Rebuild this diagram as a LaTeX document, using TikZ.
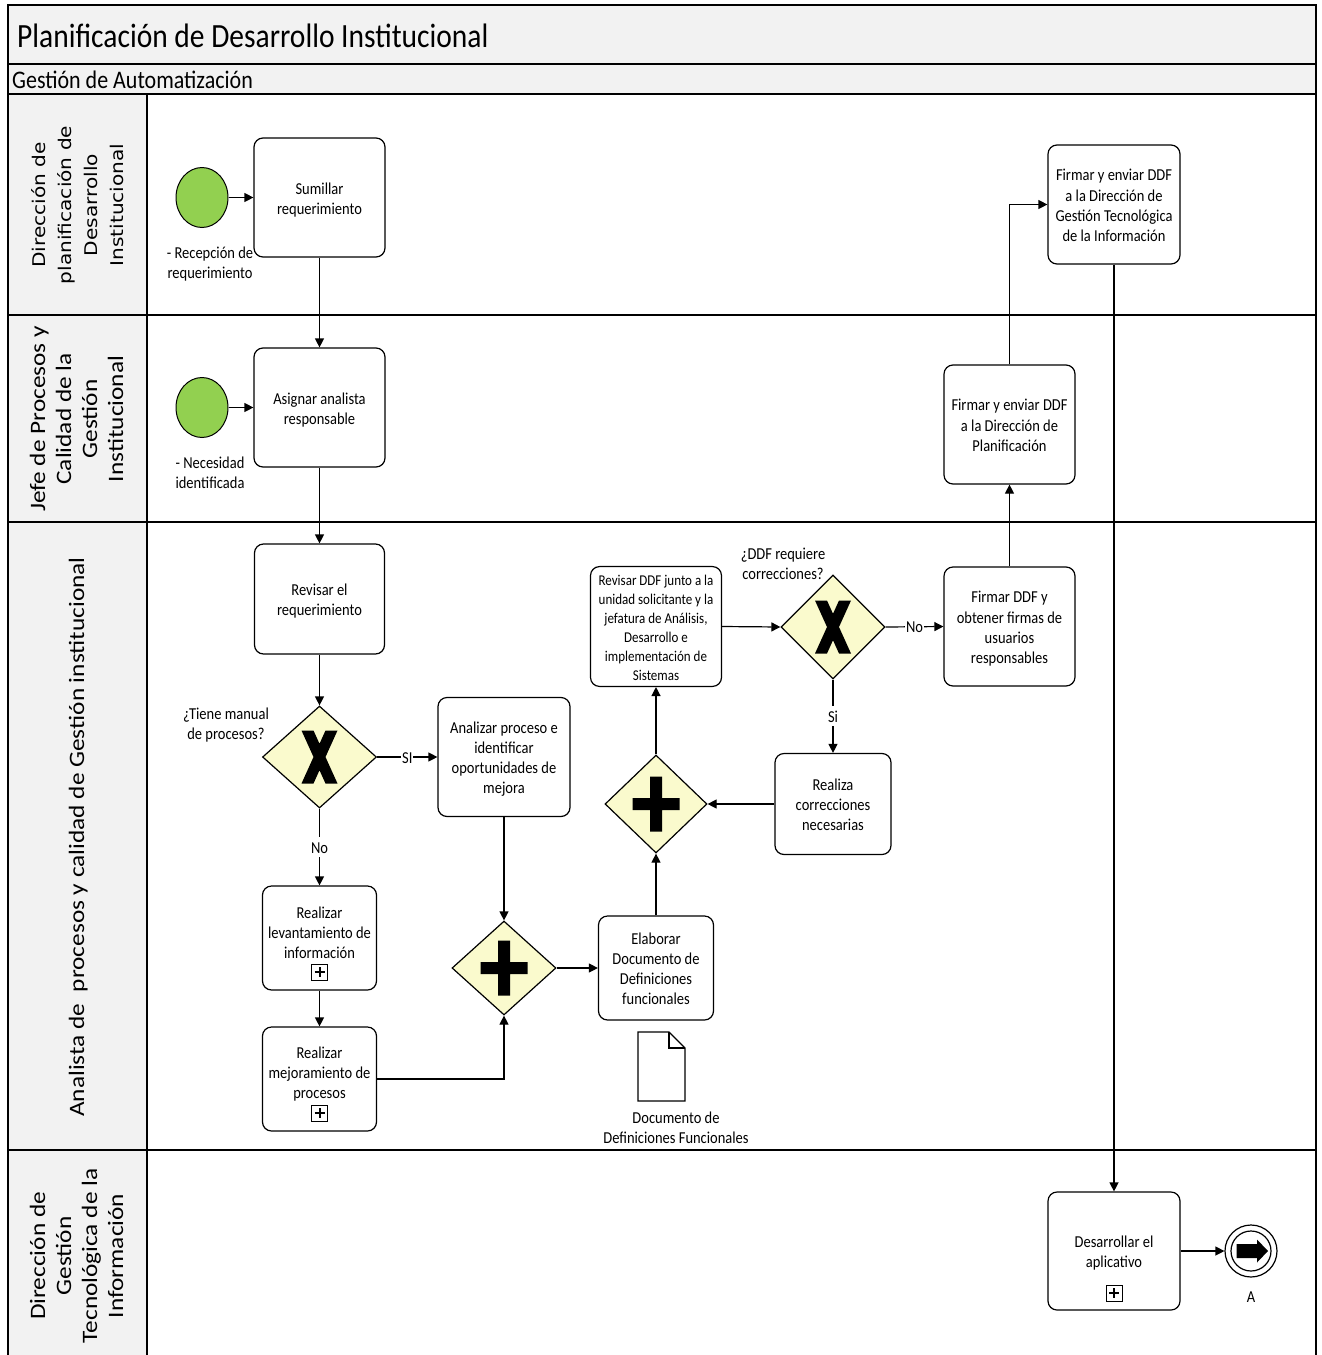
\documentclass[tikz,border=0pt]{standalone}
\usepackage{fontspec}
\setmainfont{Carlito}
\newfontfamily\lanefont{DejaVu Sans}
\usetikzlibrary{shapes.geometric,arrows.meta}

\definecolor{hdrgray}{RGB}{242,242,242}
\definecolor{gwfill}{RGB}{250,250,205}
\definecolor{startgreen}{RGB}{146,208,80}

% text set a little taller than wide (horizontal) / longer than tall (vertical)
\newcommand\tall[1]{\raisebox{-2.5pt}[\height][\depth]{\scalebox{1}[1.15]{\begin{tabular}{@{}c@{}}#1\end{tabular}}}}
\newcommand\stretched[1]{\scalebox{1.15}[1]{\begin{tabular}{@{}c@{}}#1\end{tabular}}}

% exclusive gateway cross
\newcommand\gwcross[1]{\fill[black,shift={(#1)}] (-18,-26.5) -- (-6,-26.5) -- (0,-13.25) -- (6,-26.5) -- (18,-26.5) -- (6,0) -- (18,26.5) -- (6,26.5) -- (0,13.25) -- (-6,26.5) -- (-18,26.5) -- (-6,0) -- cycle;}
% parallel gateway plus
\newcommand\gwplus[1]{\fill[black,shift={(#1)}] (-23.5,-6) rectangle (23.5,6) (-6,-27.5) rectangle (6,27.5);}
% collapsed sub-process marker
\newcommand\submark[1]{\draw[line width=1pt,fill=white,shift={(#1)}] (-8,-8) rectangle (8,8);
  \draw[line width=2pt,shift={(#1)}] (-5,0) -- (5,0) (0,-5) -- (0,5);}

\begin{document}
\begin{tikzpicture}[x=1pt,y=-1pt,
  conn/.style={line width=1.2pt,-{Triangle[length=9pt,width=9pt]}},
  task/.style={draw,rounded corners=9pt,line width=1.2pt,fill=white,inner sep=3pt,font=\fontsize{14.5}{17.4}\selectfont},
  gateway/.style={draw,diamond,line width=1.2pt,fill=gwfill,inner sep=0pt},
  startev/.style={draw,ellipse,line width=1pt,fill=startgreen,minimum width=52pt,minimum height=60pt,inner sep=0pt},
  note/.style={inner sep=0pt,font=\fontsize{14.5}{17.4}\selectfont},
  edgelab/.style={fill=white,inner sep=1pt,font=\fontsize{14.5}{16}\selectfont},
  lanelab/.style={rotate=90,inner sep=0pt},
  frame/.style={line width=1.8pt}]

\useasboundingbox (0,0) rectangle (1322,1355);

% pool and lanes
\fill[hdrgray] (8,5) rectangle (1316,94);
\fill[hdrgray] (8,94) rectangle (147,1360);
\draw[frame] (8,1360) -- (8,5) -- (1316,5) -- (1316,1360);
\draw[frame] (8,64) -- (1316,64) (8,94) -- (1316,94)
  (8,315) -- (1316,315) (8,522) -- (1316,522) (8,1150) -- (1316,1150);
\draw[frame] (147,94) -- (147,1360);

\node[anchor=west,inner sep=0pt,font=\fontsize{29.5}{30}\selectfont] (title) at (17,38) {\tall{Planificación de Desarrollo Institucional}};
\node[anchor=west,inner sep=0pt,font=\fontsize{22}{24}\selectfont] (subtitle) at (12,80) {\tall{Gestión de Automatización}};

\node[lanelab,font=\lanefont\fontsize{17.5}{26}\selectfont] (lane1) at (79,205) {\stretched{Dirección de\\planificación de\\Desarrollo\\Institucional}};
\node[lanelab,font=\fontsize{22}{26}\selectfont] (lane2) at (79,419) {\stretched{Jefe de Procesos y\\Calidad de la\\Gestión\\Institucional}};
\node[lanelab,font=\fontsize{22}{26}\selectfont] (lane3) at (79,837) {\stretched{Analista de \ procesos y calidad de Gestión institucional}};
\node[lanelab,font=\fontsize{22}{26}\selectfont] (lane4) at (79,1256) {\stretched{Dirección de\\Gestión\\Tecnológica de la\\Información}};

% start events
\node[startev] (start1) at (202,197.5) {};
\node[note] (start1lab) at (210,262) {\tall{- Recepción de\\requerimiento}};
\node[startev] (start2) at (202,407.5) {};
\node[note] (start2lab) at (210,472) {\tall{- Necesidad\\identificada}};

% tasks
\node[task,minimum width=131pt,minimum height=119pt] (sum) at (319.5,197.5) {\tall{Sumillar\\requerimiento}};
\node[task,minimum width=131pt,minimum height=119pt] (asig) at (319.5,407.5) {\tall{Asignar analista\\responsable}};
\node[task,minimum width=130pt,minimum height=110pt] (rev) at (319.5,599) {\tall{Revisar el\\requerimiento}};
\node[gateway,minimum width=114pt,minimum height=102pt] (gw1) at (319.5,757) {};
\gwcross{gw1.center}
\node[note] (gw1lab) at (226,723) {\tall{¿Tiene manual\\de procesos?}};
\node[task,minimum width=132pt,minimum height=119pt] (anal) at (504,757) {\tall{Analizar proceso e\\identificar\\oportunidades de\\mejora}};
\node[task,minimum width=114pt,minimum height=104pt] (lev) at (319.5,938) {};
\node[note] (levtxt) at (319.5,932) {\tall{Realizar\\levantamiento de\\información}};
\submark{319.5,972}
\node[task,minimum width=114pt,minimum height=104pt] (mej) at (319.5,1079) {};
\node[note] (mejtxt) at (319.5,1072) {\tall{Realizar\\mejoramiento de\\procesos}};
\submark{319.5,1113}
\node[gateway,minimum width=104pt,minimum height=94pt] (par1) at (504,968) {};
\gwplus{par1.center}
\node[task,minimum width=115pt,minimum height=104pt] (elab) at (656,968) {\tall{Elaborar\\Documento de\\Definiciones\\funcionales}};

% data object
\draw[line width=1.2pt,fill=white] (638,1032) -- (669,1032) -- (685,1048) -- (685,1101) -- (638,1101) -- cycle;
\draw[line width=1.2pt] (669,1032) -- (669,1048) -- (685,1048);
\node[note] (doclab) at (676,1127) {\tall{Documento de\\Definiciones Funcionales}};

\node[gateway,minimum width=102pt,minimum height=98pt] (par2) at (656,804) {};
\gwplus{par2.center}
\node[task,minimum width=131pt,minimum height=119pt,font=\fontsize{13}{16.5}\selectfont] (revddf) at (656,626.5) {\tall{Revisar DDF junto a la\\unidad solicitante y la\\jefatura de Análisis,\\Desarrollo e\\implementación de\\Sistemas}};
\node[gateway,minimum width=104pt,minimum height=104pt] (gw2) at (833,627) {};
\gwcross{gw2.center}
\node[note] (gw2lab) at (783,563) {\tall{¿DDF requiere\\correcciones?}};
\node[task,minimum width=116pt,minimum height=101pt] (corr) at (833,804) {\tall{Realiza\\correcciones\\necesarias}};
\node[task,minimum width=131pt,minimum height=119pt] (firm) at (1009.5,626.5) {\tall{Firmar DDF y\\obtener firmas de\\usuarios\\responsables}};
\node[task,minimum width=131pt,minimum height=119pt] (plan) at (1009.5,424.5) {\tall{Firmar y enviar DDF\\a la Dirección de\\Planificación}};
\node[task,minimum width=132pt,minimum height=119pt] (gest) at (1114,204.5) {\tall{Firmar y enviar DDF\\a la Dirección de\\Gestión Tecnológica\\de la Información}};
\node[task,minimum width=132pt,minimum height=118pt] (des) at (1114,1251) {};
\node[note] (destxt) at (1114,1251) {\tall{Desarrollar el\\aplicativo}};
\submark{1114,1293}

% link end event
\node[draw,circle,line width=1.2pt,fill=white,minimum size=52pt,inner sep=0pt] (endA) at (1251,1251) {};
\draw[line width=1.2pt] (endA.center) circle (20pt);
\fill[black,shift={(endA.center)}] (-14.5,-7) -- (6,-7) -- (6,-11.5) -- (17,0) -- (6,11.5) -- (6,7) -- (-14.5,7) -- cycle;
\node[note] (endAlab) at (1251,1296) {\tall{A}};

% sequence flows
\draw[conn] (start1) -- (sum);
\draw[conn] (start2) -- (asig);
\draw[conn] (sum) -- (asig);
\draw[conn] (asig) -- (rev);
\draw[conn] (rev) -- (gw1);
\draw[conn] (gw1.east) -- node[edgelab] {\tall{SI}} (anal.west);
\draw[conn] (gw1.south) -- node[edgelab] {\tall{No}} (lev.north);
\draw[conn] (lev) -- (mej);
\draw[conn] (mej.east) -| (par1.south);
\draw[conn] (anal) -- (par1);
\draw[conn] (par1.east) -- (elab.west);
\draw[conn] (elab) -- (par2);
\draw[conn] (par2) -- (revddf);
\draw[conn] (revddf.east) -- (gw2.west);
\draw[conn] (gw2.south) -- node[edgelab] {\tall{Si}} (corr.north);
\draw[conn] (corr.west) -- (par2.east);
\draw[conn] (gw2.east) -- node[edgelab] {\tall{No}} (firm.west);
\draw[conn] (firm) -- (plan);
\draw[conn] (plan.north) |- (gest.west);
\draw[conn] (gest) -- (des);
\draw[conn] (des.east) -- (endA.west);
\end{tikzpicture}
\end{document}
